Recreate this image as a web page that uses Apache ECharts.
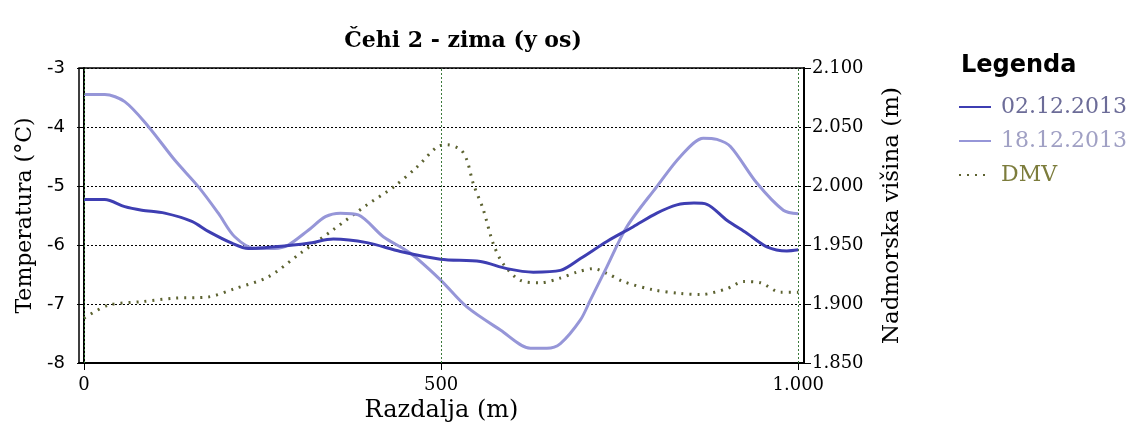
<!DOCTYPE html>
<html>
<head>
<meta charset="utf-8">
<script src="https://cdn.jsdelivr.net/npm/echarts@6/dist/echarts.min.js"></script>
<style>
  html, body { margin: 0; padding: 0; background: #fff; }
  #chart { width: 1129px; height: 433px; }
</style>
</head>
<body>
<div id="chart"></div>
<script>
// Čehi 2 - zima: temperatura (levo) in nadmorska višina (desno)
var dist02 = [0, 29, 57, 81, 113, 151, 174, 207, 230, 267, 314, 349, 396, 443, 499, 555, 592, 629, 667, 695, 732, 769, 802, 830, 854, 872, 900, 928, 956, 984, 1000];
var temp02 = [-5.23, -5.23, -5.35, -5.41, -5.46, -5.60, -5.77, -5.97, -6.06, -6.03, -5.97, -5.90, -5.96, -6.11, -6.24, -6.28, -6.40, -6.46, -6.43, -6.23, -5.94, -5.69, -5.46, -5.32, -5.29, -5.31, -5.58, -5.80, -6.03, -6.10, -6.08];

var dist18 = [0, 29, 57, 90, 127, 160, 188, 211, 240, 267, 286, 314, 338, 359, 384, 419, 457, 499, 536, 583, 625, 648, 667, 695, 709, 732, 760, 802, 835, 867, 886, 905, 942, 979, 1000];
var temp18 = [-3.45, -3.45, -3.57, -3.99, -4.56, -5.01, -5.46, -5.86, -6.06, -6.06, -6.00, -5.75, -5.52, -5.46, -5.49, -5.86, -6.14, -6.59, -7.05, -7.44, -7.75, -7.75, -7.67, -7.27, -6.93, -6.37, -5.69, -5.01, -4.50, -4.19, -4.21, -4.33, -4.95, -5.41, -5.47];

var distDmv = [0, 34, 81, 127, 174, 211, 258, 303, 349, 396, 433, 466, 494, 508, 527, 536, 545, 559, 573, 587, 611, 639, 667, 690, 713, 732, 755, 797, 835, 863, 900, 923, 947, 975, 1000];
var visDmv = [1888, 1899, 1902, 1905, 1906, 1913, 1923, 1943, 1963, 1984, 1999, 2016, 2033, 2035, 2031, 2022, 2002, 1980, 1951, 1934, 1920, 1918, 1922, 1927, 1930, 1926, 1919, 1912, 1909, 1908, 1913, 1919, 1918, 1910, 1910];

var xTicks = [0, 500, 1000];
var names = ['02.12.2013', '18.12.2013', 'DMV'];

function pairs(xs, ys) {
  return xs.map(function (x, i) { return [x, ys[i]]; });
}
function fmtSl(v) {
  // slovenski zapis: pika kot ločilo tisočic
  return String(v).replace(/\B(?=(\d{3})+(?!\d))/g, '.');
}

var chart = echarts.init(document.getElementById('chart'));

chart.setOption({
  backgroundColor: '#fff',
  animation: false,
  title: [{
    text: 'Čehi 2 - zima (y os)',
    left: 458, top: 25, textAlign: 'center',
    textStyle: { fontFamily: 'DejaVu Serif', fontWeight: 'bold', fontSize: 22, color: '#000' }
  }, {
    text: 'Legenda',
    left: 956, top: 49,
    textStyle: { fontFamily: 'DejaVu Sans', fontWeight: 'bold', fontSize: 24, color: '#000' }
  }],
  legend: {
    orient: 'vertical',
    left: 953, top: 91,
    itemWidth: 32, itemHeight: 8, itemGap: 12,
    itemStyle: { opacity: 0 },
    textStyle: { fontFamily: 'DejaVu Serif', fontSize: 22, lineHeight: 22, padding: [0, 0, 0, 5] },
    data: [
      { name: names[0], textStyle: { color: '#6c6c98' } },
      { name: names[1], textStyle: { color: '#a0a0c4' } },
      { name: names[2], textStyle: { color: '#7c7c3c' } }
    ]
  },
  grid: {
    left: 79, right: 325, top: 68, bottom: 70,
    show: true, borderColor: '#000', borderWidth: 1.5, backgroundColor: '#fff'
  },
  xAxis: {
    type: 'value', min: -7, max: 1008,
    name: 'Razdalja (m)', nameLocation: 'middle', nameGap: 34,
    nameTextStyle: { fontFamily: 'DejaVu Serif', fontSize: 24, color: '#000' },
    axisLine: { onZero: false, lineStyle: { color: '#000', width: 2 } },
    axisTick: { show: true, customValues: xTicks, length: 7, lineStyle: { color: '#000' } },
    axisLabel: {
      customValues: xTicks, margin: 13, formatter: fmtSl,
      fontFamily: 'DejaVu Serif', fontSize: 18, color: '#000'
    },
    splitLine: { show: false }
  },
  yAxis: [{
    type: 'value', min: -8, max: -3, interval: 1, position: 'left',
    name: 'Temperatura (°C)', nameLocation: 'middle', nameGap: 38, nameRotate: 90,
    nameTextStyle: { fontFamily: 'DejaVu Serif', fontSize: 22, color: '#000' },
    axisLine: { show: true, lineStyle: { color: '#000', width: 2 } },
    axisTick: { show: true, length: 7, lineStyle: { color: '#000' } },
    axisLabel: { margin: 14, fontFamily: 'DejaVu Sans', fontSize: 18, color: '#000' },
    splitLine: { show: true, lineStyle: { color: '#000', type: [2, 2], width: 1 } }
  }, {
    type: 'value', min: 1850, max: 2100, interval: 50, position: 'right',
    name: 'Nadmorska višina (m)', nameLocation: 'middle', nameGap: 77, nameRotate: 90,
    nameTextStyle: { fontFamily: 'DejaVu Serif', fontSize: 23, color: '#000' },
    axisLine: { show: true, lineStyle: { color: '#000', width: 2 } },
    axisTick: { show: true, length: 7, lineStyle: { color: '#000' } },
    axisLabel: { margin: 8, formatter: fmtSl, fontFamily: 'DejaVu Serif', fontSize: 18, color: '#000' },
    splitLine: { show: false }
  }],
  series: [{
    name: names[0], type: 'line', yAxisIndex: 0,
    data: pairs(dist02, temp02), smooth: 0.3, showSymbol: false, symbol: 'none',
    lineStyle: { color: '#3e3eb2', width: 3 }, itemStyle: { color: '#3e3eb2' },
    z: 4,
    markLine: {
      silent: true, symbol: 'none', label: { show: false },
      lineStyle: { color: '#3c7a3c', type: [2, 2], width: 1 },
      data: xTicks.map(function (v) { return { xAxis: v }; })
    }
  }, {
    name: names[1], type: 'line', yAxisIndex: 0,
    data: pairs(dist18, temp18), smooth: 0.3, showSymbol: false, symbol: 'none',
    lineStyle: { color: '#9696d8', width: 3 }, itemStyle: { color: '#9696d8' },
    z: 3
  }, {
    name: names[2], type: 'line', yAxisIndex: 1,
    data: pairs(distDmv, visDmv), smooth: 0.3, showSymbol: false, symbol: 'none',
    lineStyle: { color: '#5c6230', width: 3, type: [2, 6] }, itemStyle: { color: '#5c6230' },
    z: 2
  }]
});
</script>
</body>
</html>
